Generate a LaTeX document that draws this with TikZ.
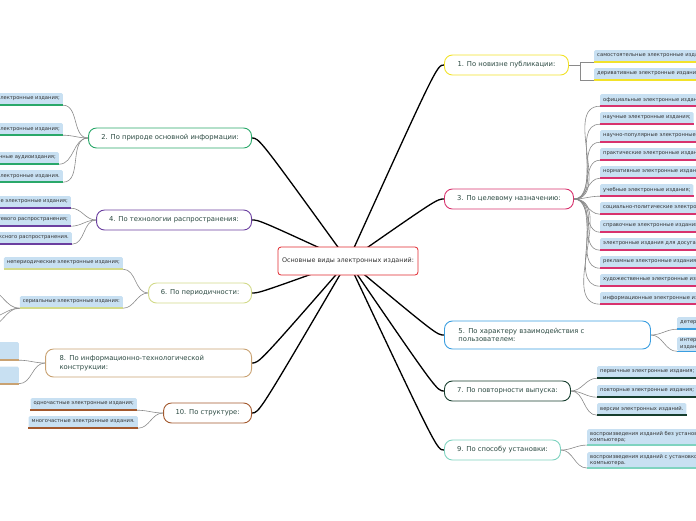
\documentclass[tikz,border=0pt]{standalone}
\usepackage{fontspec}
\setmainfont{DejaVu Sans}
\usetikzlibrary{backgrounds,calc}

\definecolor{leafblue}{HTML}{C8E0F2}
\definecolor{leaftext}{HTML}{333333}
\definecolor{branchtext}{HTML}{2C4A42}
\definecolor{twiggray}{HTML}{8A8A8A}
\definecolor{cred}{HTML}{E0282E}
\definecolor{cyellow}{HTML}{F2E22A}
\definecolor{cgreen}{HTML}{2AA86A}
\definecolor{cpink}{HTML}{D8336E}
\definecolor{cpurple}{HTML}{6B3FA0}
\definecolor{cblue}{HTML}{3A9EE0}
\definecolor{colive}{HTML}{D2DA8A}
\definecolor{cdark}{HTML}{173E2E}
\definecolor{ctan}{HTML}{C9A272}
\definecolor{cteal}{HTML}{7FD3C0}
\definecolor{cbrown}{HTML}{A3592E}

\tikzset{
  under/.style={append after command={(\tikzlastnode.south west) edge[draw=#1,line width=1.6pt] (\tikzlastnode.south east)}}
}

\begin{document}
\begin{tikzpicture}[x=1pt,y=-1pt]
  \tikzstyle{hub}=[draw=cred,fill=white,rounded corners=3pt,line width=0.8pt,minimum width=140pt,minimum height=28pt,inner xsep=2pt,text=leaftext,font=\fontsize{6.4}{8}\selectfont]
  \tikzstyle{branch}=[draw,fill=white,rounded corners=8pt,line width=0.9pt,minimum height=20pt,inner xsep=11pt,text=branchtext,font=\fontsize{6.8}{8.6}\selectfont,align=left]
  \tikzstyle{wide}=[text width=178pt,inner xsep=14pt,minimum height=28pt]
  \tikzstyle{leaf}=[fill=leafblue,rounded corners=1.5pt,minimum height=12pt,inner xsep=3pt,inner ysep=2pt,text=leaftext,font=\fontsize{5.2}{6.6}\selectfont,align=left]
  \tikzstyle{trunk}=[draw=black,line width=1.3pt]
  \tikzstyle{twig}=[draw=twiggray,line width=0.6pt]
  \useasboundingbox (0,0) rectangle (696,520);
  \clip (0,0) rectangle (696,520);

  % centre
  \node[hub] (c) at (348,261) {Основные виды электронных изданий:};

  % branches, right
  \node[branch,draw=cyellow,anchor=west,minimum width=124pt] (b1) at (444,65) {1. По новизне публикации:};
  \node[branch,draw=cpink,anchor=west,minimum width=129pt] (b3) at (444,199) {3. По целевому назначению:};
  \node[branch,wide,draw=cblue,anchor=west] (b5) at (444,335) {5. По характеру взаимодействия с\\пользователем:};
  \node[branch,draw=cdark,anchor=west,minimum width=126pt] (b7) at (444,391) {7. По повторности выпуска:};
  \node[branch,draw=cteal,anchor=west,minimum width=116pt] (b9) at (444,450) {9. По способу установки:};

  % branches, left
  \node[branch,draw=cgreen,anchor=east,minimum width=163pt] (b2) at (252,138) {2. По природе основной информации:};
  \node[branch,draw=cpurple,anchor=east,minimum width=155pt] (b4) at (252,220) {4. По технологии распространения:};
  \node[branch,draw=colive,anchor=east,minimum width=103pt] (b6) at (252,293) {6. По периодичности:};
  \node[branch,wide,draw=ctan,anchor=east] (b8) at (252,363) {8. По информационно-технологической\\конструкции:};
  \node[branch,draw=cbrown,anchor=east,minimum width=88pt] (b10) at (252,413) {10. По структуре:};

  % leaves, right
  \node[leaf,under=cyellow,anchor=west] (l1a) at (594,56) {самостоятельные электронные издания;};
  \node[leaf,under=cyellow,anchor=west] (l1b) at (594,74) {деривативные электронные издания.};
  \foreach \t [count=\i] in {официальные электронные издания;,научные электронные издания;,научно-популярные электронные издания;,практические электронные издания;,нормативные электронные издания;,учебные электронные издания;,социально-политические электронные издания;,справочные электронные издания;,электронные издания для досуга;,рекламные электронные издания;,художественные электронные издания;,информационные электронные издания.}
    \node[leaf,under=cpink,anchor=west] (l3-\i) at (600,82+18*\i) {\t};
  \node[leaf,under=cblue,anchor=west] (l5a) at (677,323) {детерминированные электронные издания;};
  \node[leaf,under=cblue,anchor=west] (l5b) at (677,344) {интерактивные электронные\\издания.};
  \node[leaf,under=cdark,anchor=west] (l7a) at (597,372) {первичные электронные издания;};
  \node[leaf,under=cdark,anchor=west] (l7b) at (597,391) {повторные электронные издания;};
  \node[leaf,under=cdark,anchor=west] (l7c) at (597,409) {версии электронных изданий.};
  \node[leaf,under=cteal,anchor=west] (l9a) at (587,437) {воспроизведения изданий без установки на жесткий диск\\компьютера;};
  \node[leaf,under=cteal,anchor=west] (l9b) at (587,460) {воспроизведения изданий с установкой на жесткий диск\\компьютера.};

  % leaves, left
  \node[leaf,under=cgreen,anchor=east] (l2a) at (63,99) {текстовые электронные издания;};
  \node[leaf,under=cgreen,anchor=east] (l2b) at (63,129) {изобразительные электронные издания;};
  \node[leaf,under=cgreen,anchor=east] (l2c) at (59,158) {электронные аудиоиздания;};
  \node[leaf,under=cgreen,anchor=east] (l2d) at (63,176) {мультимедийные электронные издания.};
  \node[leaf,under=cpurple,anchor=east] (l4a) at (71,202) {локальные электронные издания;};
  \node[leaf,under=cpurple,anchor=east] (l4b) at (71,220) {электронные издания сетевого распространения;};
  \node[leaf,under=cpurple,anchor=east] (l4c) at (72,238) {электронные издания комплексного распространения.};
  \node[leaf,under=colive,anchor=east] (l6a) at (123,263) {непериодические электронные издания;};
  \node[leaf,under=colive,anchor=east] (l6b) at (123,302) {сериальные электронные издания:};
  \node[leaf,under=ctan,anchor=east,minimum width=60pt,minimum height=18pt] (l8a) at (19,351) {};
  \node[leaf,under=ctan,anchor=east,minimum width=60pt,minimum height=17pt] (l8b) at (19,375) {};
  \node[leaf,under=cbrown,anchor=east] (l10a) at (137,404) {одночастные электронные издания;};
  \node[leaf,under=cbrown,anchor=east] (l10b) at (138,422) {многочастные электронные издания.};
  \coordinate (s1) at (-12,290);
  \coordinate (s2) at (-12,318);
  \coordinate (s3) at (-12,327);

  \begin{pgfonlayer}{background}
    % trunk lines
    \foreach \b in {b1,b3,b5,b7,b9}
      \draw[trunk] (c.center) .. controls ($(\b.west)+(-7,0)$) .. (\b.west);
    \foreach \b in {b2,b4,b6,b8,b10}
      \draw[trunk] (c.center) .. controls ($(\b.east)+(7,0)$) .. (\b.east);
    % twigs
    \draw[twig] (b1.east) -- ++(11,0) |- (l1a.south west);
    \draw[twig] (b1.east) -- ++(11,0) |- (l1b.south west);
    \foreach \i in {1,...,12}
      \draw[twig] (b3.east) to[out=0,in=180] (l3-\i.south west);
    \foreach \l in {l5a,l5b}
      \draw[twig] (b5.east) to[out=0,in=180] (\l.south west);
    \foreach \l in {l7a,l7b,l7c}
      \draw[twig] (b7.east) to[out=0,in=180] (\l.south west);
    \foreach \l in {l9a,l9b}
      \draw[twig] (b9.east) to[out=0,in=180] (\l.south west);
    \foreach \l in {l2a,l2b,l2c,l2d}
      \draw[twig] (b2.west) to[out=180,in=0] (\l.south east);
    \foreach \l in {l4a,l4b,l4c}
      \draw[twig] (b4.west) to[out=180,in=0] (\l.south east);
    \foreach \l in {l6a,l6b}
      \draw[twig] (b6.west) to[out=180,in=0] (\l.south east);
    \foreach \l in {l8a,l8b}
      \draw[twig] (b8.west) to[out=180,in=0] (\l.south east);
    \foreach \l in {l10a,l10b}
      \draw[twig] (b10.west) to[out=180,in=0] (\l.south east);
    \foreach \s in {s1,s2,s3}
      \draw[twig] (l6b.south west) to[out=180,in=0] (\s);
  \end{pgfonlayer}
\end{tikzpicture}
\end{document}
